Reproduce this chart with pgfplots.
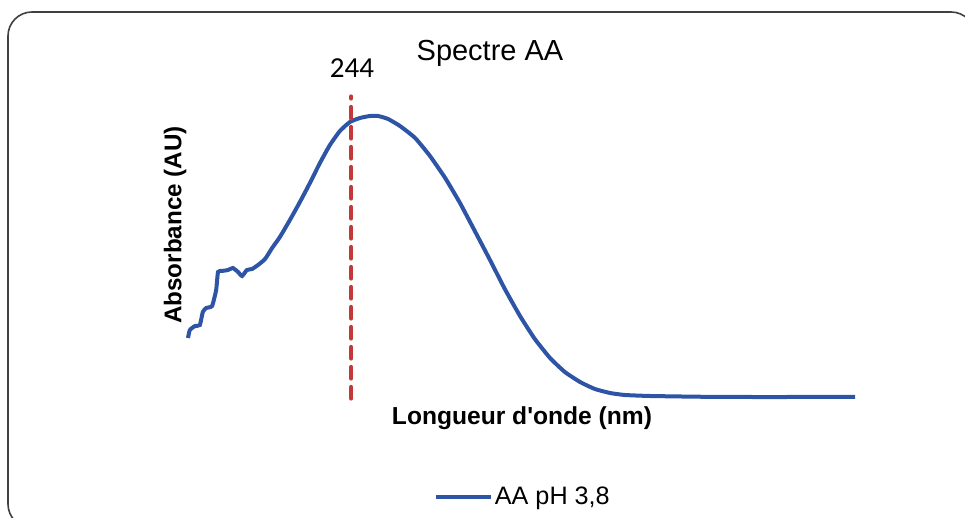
\documentclass[border=0pt]{standalone}
\usepackage{pgfplots}
\pgfplotsset{compat=1.18}
\usepackage{fontspec}
\setmainfont{Liberation Sans}
\newfontfamily\numfont{Carlito}
\definecolor{specblue}{RGB}{46,84,166}
\definecolor{markred}{RGB}{196,56,56}

\begin{document}
\begin{tikzpicture}
% page: 965x518 px at 0.5pt/px, origin at the axis' lower left corner
\useasboundingbox (-94pt,-59pt) rectangle (388.5pt,200pt);
\begin{scope}
\clip (-94pt,-59pt) rectangle (388.5pt,200pt);
\draw[black!75, line width=0.8pt, rounded corners=12pt] (-90pt,-64pt) rectangle (393.5pt,194pt);
\end{scope}
\begin{axis}[
    at={(0pt,0pt)}, anchor=south west,
    scale only axis, width=333.5pt, height=152.5pt,
    xmin=200, xmax=380, ymin=0, ymax=1.22,
    hide axis, clip=false,
    legend style={at={(0.502,-0.318)}, anchor=center, draw=none, fill=none,
        font=\fontsize{12.6}{15}\selectfont, inner sep=0pt,
        nodes={inner xsep=1pt}},
    legend image code/.code={\draw[#1] (0pt,0pt) -- (27.5pt,0pt);},
]
\addplot[specblue, line width=2pt, smooth, tension=0.3] coordinates {
(200.0,0.248) (200.5,0.280) (201.9,0.296) (203.2,0.300) (204.0,0.352)
(204.9,0.368) (206.5,0.376) (207.6,0.440) (208.1,0.512) (209.2,0.516)
(210.8,0.520) (212.1,0.528) (213.5,0.512) (214.6,0.496) (215.9,0.520)
(217.3,0.524) (218.9,0.540) (220.8,0.564) (222.7,0.608) (224.8,0.652)
(227.5,0.720) (230.2,0.792) (232.9,0.868) (235.6,0.948) (238.3,1.020)
(241.0,1.076) (243.7,1.112) (246.4,1.128) (249.1,1.136) (251.3,1.136)
(254.0,1.124) (257.2,1.096) (261.3,1.048) (265.3,0.976) (269.4,0.888)
(273.4,0.788) (277.4,0.676) (281.5,0.560) (285.5,0.444) (289.6,0.336)
(293.6,0.244) (297.7,0.168) (301.7,0.112) (305.8,0.072) (309.8,0.044)
(313.9,0.028) (317.9,0.020) (324.7,0.016) (338.2,0.013) (351.6,0.012)
(365.1,0.012) (380.0,0.012)
};
\addlegendentry{AA pH 3,8}
\addplot[markred, line width=1.8pt, line cap=round, dash pattern=on 6pt off 4pt, forget plot] coordinates {
(244,0.005) (244,1.215)
};
\end{axis}
\node at (151pt,173.5pt) {\fontsize{14.5}{17}\selectfont Spectre AA};
\node at (82pt,166pt) {\numfont\fontsize{14.5}{16}\selectfont 244};
\node at (167pt,-9pt) {\fontsize{12.3}{14}\selectfont\bfseries Longueur d\textquotesingle onde (nm)};
\node[rotate=90] at (-6.5pt,87.5pt) {\fontsize{12.1}{14}\selectfont\bfseries Absorbance (AU)};
\end{tikzpicture}
\end{document}
